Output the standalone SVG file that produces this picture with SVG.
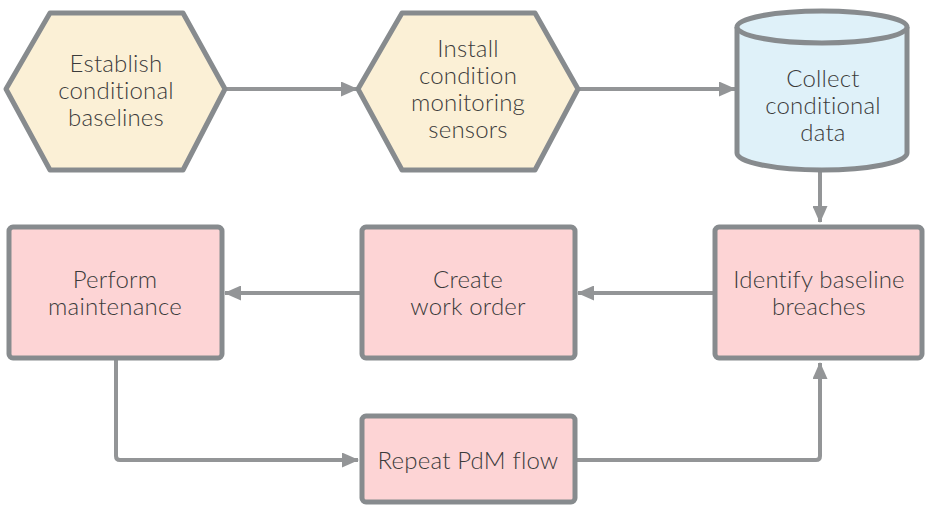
<svg xmlns="http://www.w3.org/2000/svg" width="927" height="505" viewBox="0 0 927 505">
  <style>
    .hex { fill: #fbf0d6; stroke: #878b8e; stroke-width: 5; stroke-linejoin: round; }
    .cyl { fill: #dff1f9; stroke: #878b8e; stroke-width: 5; stroke-linejoin: round; }
    .box { fill: #fdd4d5; stroke: #878b8e; stroke-width: 5; }
    .lbl { font-family: Lato, "Liberation Sans", sans-serif; font-weight: 300; font-size: 24px; letter-spacing: 0.2px; fill: #3b3b3b; text-anchor: middle; }
    .edge { fill: none; stroke: #939597; stroke-width: 4; stroke-linejoin: round; }
  </style>
  <defs>
    <marker id="arrow" viewBox="0 0 17 15" refX="16" refY="7.5" markerWidth="17" markerHeight="15" markerUnits="userSpaceOnUse" orient="auto">
      <path d="M0,0 L17,7.5 L0,15 Z" fill="#939597"/>
    </marker>
  </defs>
  <rect width="927" height="505" fill="#ffffff"/>

  <g id="connectors">
    <path class="edge" d="M225,89 H357" marker-end="url(#arrow)"/>
    <path class="edge" d="M578,89 H735" marker-end="url(#arrow)"/>
    <path class="edge" d="M820,171 V222" marker-end="url(#arrow)"/>
    <path class="edge" d="M715,293 H578" marker-end="url(#arrow)"/>
    <path class="edge" d="M362,293 H225" marker-end="url(#arrow)"/>
    <path class="edge" d="M116,359 V456 Q116,460 120,460 H358" marker-end="url(#arrow)"/>
    <path class="edge" d="M576,460 H816 Q820,460 820,456 V363" marker-end="url(#arrow)"/>
  </g>

  <g id="establish">
    <polygon class="hex" points="6,89 50,13 183,13 225,89 183,170 50,170"/>
    <text class="lbl" x="116" y="72">Establish</text>
    <text class="lbl" x="116" y="99">conditional</text>
    <text class="lbl" x="116" y="126">baselines</text>
  </g>

  <g id="install">
    <polygon class="hex" points="358,89 402,13 535,13 578,89 535,170 402,170"/>
    <text class="lbl" x="468" y="57">Install</text>
    <text class="lbl" x="468" y="84">condition</text>
    <text class="lbl" x="468" y="111">monitoring</text>
    <text class="lbl" x="468" y="138">sensors</text>
  </g>

  <g id="collect">
    <path class="cyl" d="M737,27 A85,16 0 0 1 907,27 V153 A85,17 0 0 1 737,153 Z"/>
    <path class="cyl" d="M737,27 A85,16 0 0 0 907,27" fill="none"/>
    <text class="lbl" x="823" y="87">Collect</text>
    <text class="lbl" x="823" y="114">conditional</text>
    <text class="lbl" x="823" y="141">data</text>
  </g>

  <g id="identify">
    <rect class="box" x="715" y="227" width="207" height="131" rx="4"/>
    <text class="lbl" x="819" y="288">Identify baseline</text>
    <text class="lbl" x="819" y="315">breaches</text>
  </g>

  <g id="create">
    <rect class="box" x="362" y="227" width="213" height="131" rx="4"/>
    <text class="lbl" x="468" y="288">Create</text>
    <text class="lbl" x="468" y="315">work order</text>
  </g>

  <g id="perform">
    <rect class="box" x="9" y="227" width="213" height="131" rx="4"/>
    <text class="lbl" x="115" y="288">Perform</text>
    <text class="lbl" x="115" y="315">maintenance</text>
  </g>

  <g id="repeat">
    <rect class="box" x="362" y="416" width="213" height="86" rx="4"/>
    <text class="lbl" x="468" y="469">Repeat PdM flow</text>
  </g>
</svg>
